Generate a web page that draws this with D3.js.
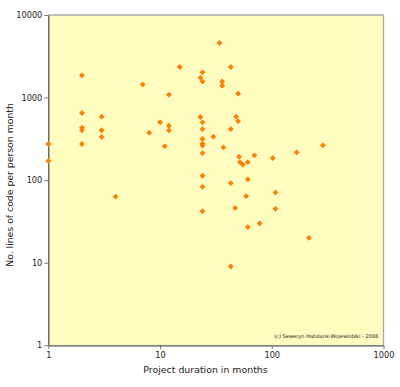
<!DOCTYPE html>
<html>
<head>
<meta charset="utf-8">
<script src="https://cdn.jsdelivr.net/npm/d3@7"></script>
<style>
    html, body { margin: 0; padding: 0; background: #fff; }
    svg text { font-family: "DejaVu Sans", sans-serif; fill: #222; }
</style>
</head>
<body>
<div id="vis"></div>
<script>
// project duration (months)
var months = [1, 1, 2, 2, 2, 2, 2, 3, 3, 3,
              4, 7, 8, 10, 11, 12, 12, 12, 15, 23,
              23, 24, 24, 24, 24, 24, 24, 24, 24, 24,
              24, 24, 30, 34, 36, 36, 37, 43, 43, 43,
              43, 47, 48, 50, 50, 51, 52, 55, 59, 61,
              61, 61, 70, 78, 102, 108, 108, 167, 215, 287];
// lines of code per person month
var loc = [274, 171, 1861, 650, 432, 402, 274, 587, 402, 333,
           63, 1440, 375, 502, 257, 1083, 456, 400, 2345, 1740,
           582, 2024, 1565, 502, 416, 315, 276, 262, 213, 113,
           83, 42, 336, 4581, 1565, 1393, 249, 2345, 416, 92,
           9, 46, 587, 520, 1114, 192, 165, 154, 64, 165,
           102, 27, 200, 30, 185, 71, 45, 217, 20, 264];

var xTicks = [1, 10, 100, 1000];
var yTicks = [1, 10, 100, 1000, 10000];

var width = 400, height = 387;
var pLeft = 48.3, pRight = 383.5, pTop = 15, pBottom = 345.3;

var svg = d3.select("#vis").append("svg")
    .attr("width", width)
    .attr("height", height);

var x = d3.scaleLog().domain([1, 1000]).range([pLeft, pRight]);
var y = d3.scaleLog().domain([1, 10000]).range([pBottom, pTop]);

// plot background
svg.append("rect")
    .attr("x", pLeft).attr("y", pTop)
    .attr("width", pRight - pLeft).attr("height", pBottom - pTop)
    .attr("fill", "#fffcc0");

// light frame top / right
svg.append("path")
    .attr("d", "M" + pLeft + "," + pTop + "H" + pRight + "V" + pBottom)
    .attr("fill", "none")
    .attr("stroke", "#aaa")
    .attr("stroke-width", 1.3);

var xAxis = svg.append("g")
    .attr("transform", "translate(0," + pBottom + ")")
    .call(d3.axisBottom(x).tickValues(xTicks).tickFormat(d3.format("d")).tickSizeInner(4).tickSizeOuter(0).tickPadding(3));

var yAxis = svg.append("g")
    .attr("transform", "translate(" + pLeft + ",0)")
    .call(d3.axisLeft(y).tickValues(yTicks).tickFormat(d3.format("d")).tickSizeInner(4).tickSizeOuter(0).tickPadding(2));

[xAxis, yAxis].forEach(function(a){
    a.select(".domain").attr("stroke", "#555").attr("stroke-width", 1.3);
    a.selectAll(".tick line").attr("stroke", "#777");
    a.selectAll(".tick text")
        .attr("font-family", "DejaVu Sans")
        .attr("font-size", 8.2)
        .attr("fill", "#222");
});

// markers
var pts = months.map(function(m, i){ return [m, loc[i]]; });
svg.append("g").selectAll("path")
    .data(pts)
    .enter().append("path")
    .attr("transform", function(d){ return "translate(" + x(d[0]) + "," + y(d[1]) + ")"; })
    .attr("d", "M0,-2.9L2.9,0L0,2.9L-2.9,0Z")
    .attr("fill", "#ff7f00");

svg.append("text")
    .attr("x", 205.5).attr("y", 372.5)
    .attr("text-anchor", "middle")
    .attr("font-size", 9.4)
    .text("Project duration in months");

svg.append("text")
    .attr("transform", "translate(13,185) rotate(-90)")
    .attr("text-anchor", "middle")
    .attr("font-size", 9.3)
    .text("No. lines of code per person month");

svg.append("text")
    .attr("x", 378.5).attr("y", 337.5)
    .attr("text-anchor", "end")
    .attr("font-size", 5.1)
    .text("(c) Seweryn Habdank-Wojewódzki - 2006");
</script>
</body>
</html>
